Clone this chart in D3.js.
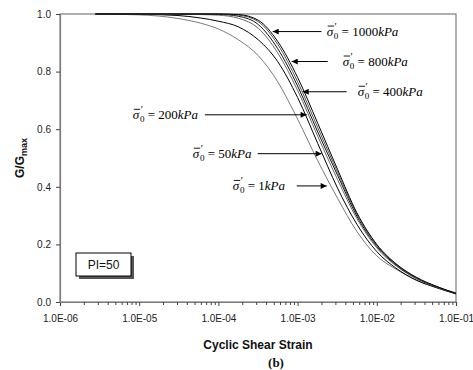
<!DOCTYPE html>
<html>
<head>
<meta charset="utf-8">
<script src="https://cdn.jsdelivr.net/npm/d3@7"></script>
<style>
  html, body { margin: 0; padding: 0; background: #fff; }
  svg { display: block; }
</style>
</head>
<body>
<svg id="chart" width="473" height="370"></svg>
<script>
// Cyclic shear strain sampled along each modulus-reduction curve
const strain = [2.8e-6, 1e-5, 3e-5, 6e-5, 1e-4, 1.8e-4, 3.2e-4, 5.6e-4, 1e-3,
                1.8e-3, 3.2e-3, 5.6e-3, 1e-2, 1.8e-2, 3.2e-2, 5.6e-2, 1e-1];

// Confining pressures (kPa)
const pressures = [1, 50, 200, 400, 800, 1000];

// G/Gmax for each confining pressure, PI = 50
const g1    = [1.0, 0.997, 0.985, 0.968, 0.948, 0.910, 0.855, 0.765, 0.635, 0.490, 0.360, 0.245, 0.160, 0.112, 0.075, 0.052, 0.032];
const g50   = [1.0, 0.999, 0.995, 0.986, 0.975, 0.955, 0.910, 0.835, 0.710, 0.550, 0.395, 0.270, 0.175, 0.115, 0.075, 0.050, 0.028];
const g200  = [1.0, 1.0, 0.999, 0.998, 0.996, 0.985, 0.950, 0.865, 0.735, 0.575, 0.425, 0.290, 0.188, 0.123, 0.080, 0.052, 0.029];
const g400  = [1.0, 1.0, 1.0, 1.0, 0.999, 0.992, 0.963, 0.880, 0.750, 0.590, 0.440, 0.298, 0.193, 0.126, 0.082, 0.053, 0.029];
const g800  = [1.0, 1.0, 1.0, 1.0, 1.0, 0.996, 0.973, 0.895, 0.765, 0.605, 0.450, 0.305, 0.197, 0.128, 0.083, 0.054, 0.030];
const g1000 = [1.0, 1.0, 1.0, 1.0, 1.0, 0.998, 0.978, 0.905, 0.780, 0.620, 0.460, 0.310, 0.200, 0.130, 0.085, 0.055, 0.030];

const seriesValues = [g1, g50, g200, g400, g800, g1000];
const seriesColors = ["#7a7a7a", "#000000", "#6a6a6a", "#111111", "#555555", "#000000"];

// Axis ticks
const xTickValues = [1e-6, 1e-5, 1e-4, 1e-3, 1e-2, 1e-1];
const xTickLabels = ["1.0E-06", "1.0E-05", "1.0E-04", "1.0E-03", "1.0E-02", "1.0E-01"];
const yTickValues = [0, 0.2, 0.4, 0.6, 0.8, 1.0];
const yTickLabels = ["0.0", "0.2", "0.4", "0.6", "0.8", "1.0"];

// Label placement per pressure, in data units: text start (strain, G), arrow tail / head strain
const noteText  = [[1.52e-4, 0.403], [4.75e-5, 0.515], [8.3e-6, 0.650], [5.73e-3, 0.730], [3.71e-3, 0.835], [2.33e-3, 0.939]];
const noteArrow = [[9.75e-4, 2.33e-3], [3.14e-4, 2.01e-3], [6.75e-5, 1.30e-3], [4.16e-3, 1.16e-3], [2.4e-3, 8.43e-4], [2.0e-3, 4.85e-4]];

const svg = d3.select("#chart");
const margin = { left: 60, right: 17, top: 14, bottom: 68 };
const W = 473, H = 370;

const x = d3.scaleLog().domain([1e-6, 1e-1]).range([margin.left, W - margin.right]);
const y = d3.scaleLinear().domain([0, 1]).range([H - margin.bottom, margin.top]);

const axisColor = "#7d7d7d";
const sans = "Arial, 'Liberation Sans', Helvetica, sans-serif";
const serif = "'Times New Roman', 'Liberation Serif', 'DejaVu Serif', serif";

// Plot frame
svg.append("rect")
  .attr("x", x(1e-6)).attr("y", y(1))
  .attr("width", x(1e-1) - x(1e-6)).attr("height", y(0) - y(1))
  .attr("fill", "none").attr("stroke", axisColor).attr("stroke-width", 1.2);

// X axis: decade ticks with labels, minor ticks between
const minor = [];
for (let e = -6; e < -1; e++) for (let m = 2; m <= 9; m++) minor.push(m * Math.pow(10, e));

const xAxis = d3.axisBottom(x).tickValues(xTickValues)
  .tickFormat((d, i) => xTickLabels[i]).tickSize(4).tickPadding(9);
const gx = svg.append("g").attr("transform", `translate(0,${y(0)})`).call(xAxis);
gx.select(".domain").attr("stroke", axisColor).attr("stroke-width", 1.2);
gx.selectAll(".tick line").attr("stroke", "#444");
gx.selectAll(".tick text").attr("font-family", sans).attr("font-size", 10).attr("fill", "#222");

const gxm = svg.append("g").attr("transform", `translate(0,${y(0)})`)
  .call(d3.axisBottom(x).tickValues(minor).tickFormat("").tickSize(3));
gxm.select(".domain").remove();
gxm.selectAll(".tick line").attr("stroke", "#444");

// Y axis
const yAxis = d3.axisLeft(y).tickValues(yTickValues)
  .tickFormat((d, i) => yTickLabels[i]).tickSize(4).tickPadding(5);
const gy = svg.append("g").attr("transform", `translate(${x(1e-6)},0)`).call(yAxis);
gy.select(".domain").attr("stroke", axisColor).attr("stroke-width", 1.2);
gy.selectAll(".tick line").attr("stroke", "#444");
gy.selectAll(".tick text").attr("font-family", sans).attr("font-size", 10).attr("fill", "#222");

// Curves
const line = d3.line()
  .x((d, i) => x(strain[i]))
  .y(d => y(d))
  .curve(d3.curveMonotoneX);

svg.append("g").selectAll("path")
  .data(seriesValues)
  .join("path")
  .attr("d", d => line(d))
  .attr("fill", "none")
  .attr("stroke", (d, i) => seriesColors[i])
  .attr("stroke-width", 1);

// Arrow head marker
svg.append("defs").append("marker")
  .attr("id", "head").attr("viewBox", "0 0 10 10")
  .attr("refX", 10).attr("refY", 5)
  .attr("markerWidth", 7).attr("markerHeight", 6)
  .attr("markerUnits", "userSpaceOnUse")
  .attr("orient", "auto")
  .append("path").attr("d", "M0,0 L10,5 L0,10 Z").attr("fill", "#000");

// Pressure labels with arrows
const notes = svg.append("g");
pressures.forEach((p, i) => {
  const [tx, tg] = noteText[i];
  const [a0, a1] = noteArrow[i];
  const ty = y(tg);

  notes.append("line")
    .attr("x1", x(a0)).attr("y1", ty)
    .attr("x2", x(a1)).attr("y2", ty)
    .attr("stroke", "#000").attr("stroke-width", 1)
    .attr("marker-end", "url(#head)");

  const t = notes.append("text")
    .attr("x", x(tx)).attr("y", ty + 4)
    .attr("font-family", serif).attr("font-size", 13).attr("fill", "#000");
  t.append("tspan").attr("font-style", "italic").text("σ");
  t.append("tspan").attr("font-size", 10).attr("dy", -6).attr("dx", 1.5).text("′");
  t.append("tspan").attr("font-size", 9).attr("dy", 9).attr("dx", -3).text("0");
  t.append("tspan").attr("dy", -3).text(" = " + p);
  t.append("tspan").attr("font-style", "italic").text("kPa");

  // overbar on sigma
  const sw = t.node().getSubStringLength(0, 1);
  notes.append("line")
    .attr("x1", x(tx) + 1).attr("x2", x(tx) + sw + 1)
    .attr("y1", ty - 5.5).attr("y2", ty - 5.5)
    .attr("stroke", "#000").attr("stroke-width", 0.9);
});

// PI box with drop shadow
const bx = 76, by = 253, bw = 55, bh = 23;
svg.append("rect").attr("x", bx + 3).attr("y", by + 3).attr("width", bw).attr("height", bh).attr("fill", "#555");
svg.append("rect").attr("x", bx).attr("y", by).attr("width", bw).attr("height", bh)
  .attr("fill", "#fff").attr("stroke", "#000").attr("stroke-width", 1);
svg.append("text").attr("x", bx + bw / 2).attr("y", by + bh / 2 + 4.5)
  .attr("text-anchor", "middle").attr("font-family", sans).attr("font-size", 12)
  .attr("fill", "#111").text("PI=50");

// Axis titles
const yt = svg.append("text")
  .attr("transform", `translate(24,${(y(0) + y(1)) / 2}) rotate(-90)`)
  .attr("text-anchor", "middle").attr("font-family", sans)
  .attr("font-size", 12).attr("font-weight", "bold").attr("fill", "#111");
yt.append("tspan").text("G/G");
yt.append("tspan").attr("font-size", 9).attr("dy", 3).text("max");

svg.append("text")
  .attr("x", (x(1e-6) + x(1e-1)) / 2).attr("y", 349)
  .attr("text-anchor", "middle").attr("font-family", sans)
  .attr("font-size", 12).attr("font-weight", "bold").attr("fill", "#111")
  .text("Cyclic Shear Strain");

svg.append("text")
  .attr("x", 276).attr("y", 367)
  .attr("text-anchor", "middle").attr("font-family", serif)
  .attr("font-size", 13).attr("font-weight", "bold").attr("fill", "#111")
  .text("(b)");
</script>
</body>
</html>
